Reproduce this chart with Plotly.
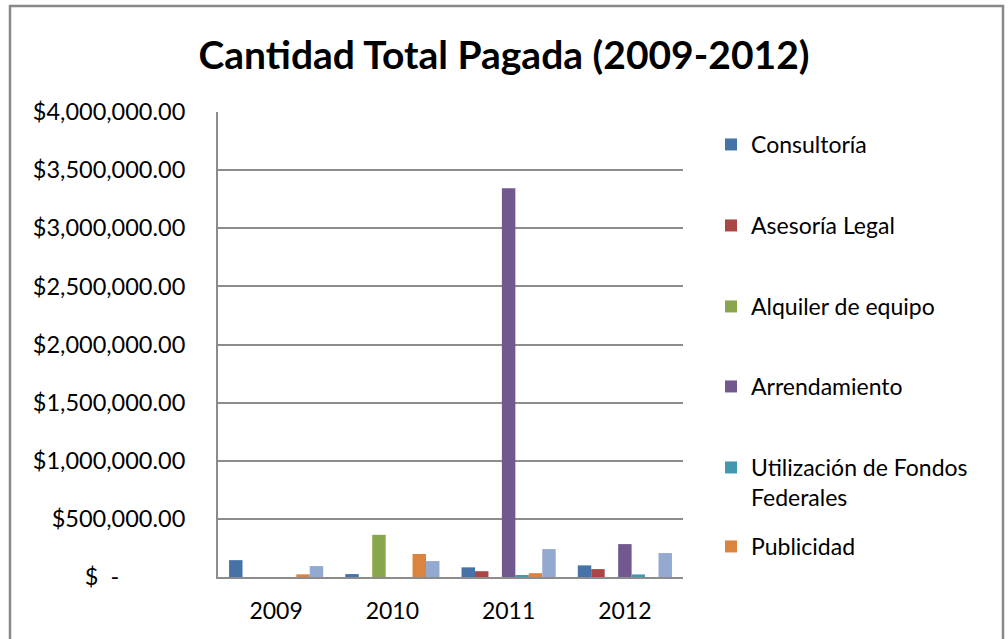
import plotly.graph_objects as go

# data
years = ['2009', '2010', '2011', '2012']
consultoria = [145000, 25000, 83000, 100000]
asesoria_legal = [0, 0, 50000, 68000]
alquiler_equipo = [0, 363000, 0, 0]
arrendamiento = [0, 0, 3345000, 283000]
fondos_federales = [0, 0, 15000, 22000]
publicidad = [23000, 198000, 33000, 0]
otros = [94000, 137000, 240000, 206000]

y_ticks = [0, 500000, 1000000, 1500000, 2000000, 2500000, 3000000, 3500000, 4000000]
NB = '\u00a0'
y_ticktext = ['$' + NB * 2 + '-' + NB * 11] + ['${:,.2f}'.format(v) for v in y_ticks[1:]]

series = [
    ('Consultoría', consultoria, '#4573A7'),
    ('Asesoría Legal', asesoria_legal, '#AA4644'),
    ('Alquiler de equipo', alquiler_equipo, '#89A54E'),
    ('Arrendamiento', arrendamiento, '#71588F'),
    ('Utilización de Fondos<br>Federales', fondos_federales, '#4198AF'),
    ('Publicidad', publicidad, '#DB843D'),
    ('Otros', otros, '#93A9CF'),
]

FONT = 'Lato'
L, R, T, B = 218, 683, 112, 577  # plot area in pixels
H = B - T

def py(p):
    return (B - p) / H

def px(p):
    return (p - L) / (R - L)

# legend rows (pixel y of first text line), one legend per entry
legend_rows = [145, 226, 307, 387, 468, 547]

fig = go.Figure()
legends = {}
for i, (name, vals, color) in enumerate(series):
    lg = 'legend' if i == 0 else 'legend%d' % (i + 1)
    show = i < len(legend_rows)
    fig.add_trace(go.Bar(
        x=years, y=vals, name=name,
        marker=dict(color=color, line=dict(width=0)),
        showlegend=show,
        legend=lg,
    ))
    if show:
        legends[lg] = dict(
            x=px(711), xanchor='left',
            y=py(legend_rows[i] - 22), yanchor='top',
            valign='top',
            bgcolor='rgba(0,0,0,0)',
            font=dict(family=FONT, size=23, color='#000000'),
            itemwidth=30,
        )

fig.update_layout(
    width=1008, height=639,
    margin=dict(l=L, r=1008 - R, t=T, b=639 - B),
    paper_bgcolor='white', plot_bgcolor='white',
    showlegend=True,
    barmode='group', bargap=0.19, bargroupgap=0,
    title=dict(
        text='<b>Cantidad Total Pagada (2009-2012)</b>',
        x=0.5, xref='container', xanchor='center',
        y=1 - 55 / 639, yref='container', yanchor='middle',
        font=dict(family=FONT, size=39, color='#000000'),
    ),
    xaxis=dict(
        showgrid=False,
        showline=True, linecolor='#8C8C8C', linewidth=2,
        ticks='', ticklabelstandoff=12,
        tickfont=dict(family=FONT, size=23, color='#000000'),
    ),
    yaxis=dict(
        range=[0, 4000000],
        tickvals=y_ticks, ticktext=y_ticktext,
        showgrid=True, gridcolor='#8C8C8C', gridwidth=2,
        showline=True, linecolor='#8C8C8C', linewidth=2,
        zeroline=False,
        ticks='', ticklabelstandoff=26,
        tickfont=dict(family=FONT, size=23.5, color='#000000'),
    ),
    shapes=[dict(
        type='rect', xref='paper', yref='paper',
        x0=px(10), x1=px(1003), y0=py(700), y1=py(6),
        line=dict(color='#898989', width=2.5),
        layer='below',
    )],
    **legends,
)

# page body has a default 8px margin; drop it so the figure sits at 0,0
fig.write_html('out.html', config={'displayModeBar': False},
               post_script="document.body.style.margin='0';")
